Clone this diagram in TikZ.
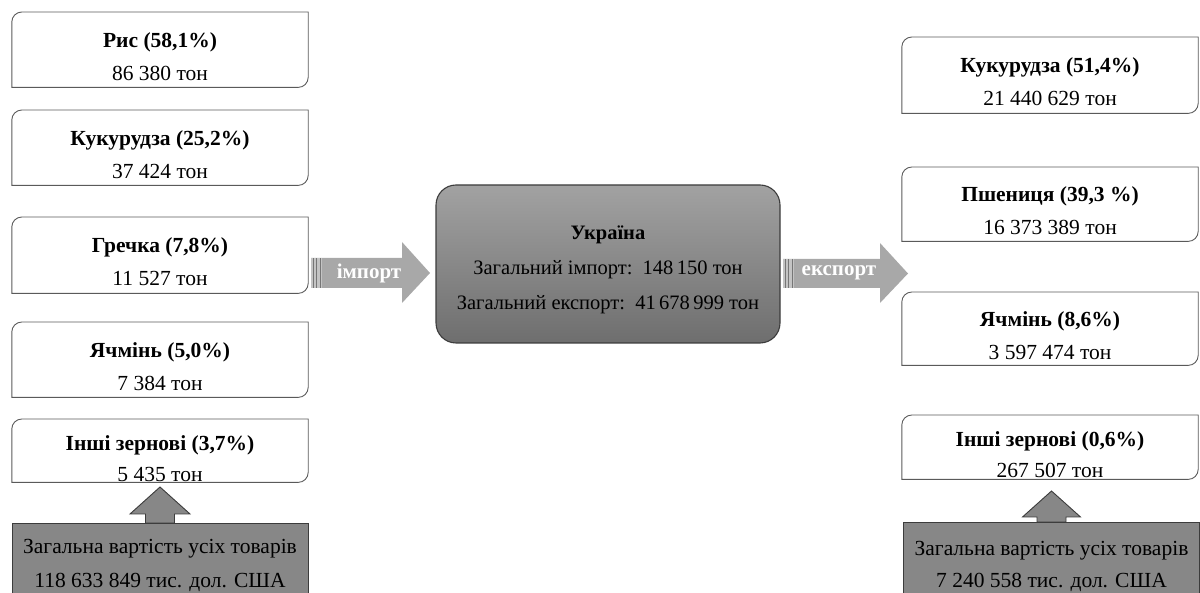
\documentclass[tikz,border=0pt]{standalone}
\usepackage{fontspec}
\setmainfont{Liberation Serif}
\usetikzlibrary{calc}
\definecolor{frameline}{HTML}{5A5A5A}
\definecolor{darkline}{HTML}{3C3C3C}
\definecolor{boxgray}{HTML}{878787}
\definecolor{arrowlight}{HTML}{A8A8A8}
\definecolor{stripe}{HTML}{C4C4C4}
\definecolor{hubtop}{HTML}{A2A2A2}
\definecolor{hubbot}{HTML}{6E6E6E}
\newcommand\drawleaf[1]{%
  \draw[leafline] (#1.south west) -- ([yshift=-10pt]#1.north west)
    arc[start angle=180,end angle=90,radius=10pt]
    -- (#1.north east) -- ([yshift=10pt]#1.south east)
    arc[start angle=0,end angle=-90,radius=10pt] -- cycle;}
\begin{document}
\begin{tikzpicture}[x=1pt,y=1pt,
  txt/.style={font=\fontsize{21.5}{25}\selectfont, inner sep=0pt, align=center, text=black},
  hubtxt/.style={font=\fontsize{20.5}{24}\selectfont, inner sep=0pt, align=center, text=black},
  leafframe/.style={rectangle, draw=none, minimum width=296pt, inner sep=0pt},
  leafline/.style={draw=frameline, line width=0.9pt},
  totbox/.style={rectangle, draw=darkline, line width=1pt, fill=boxgray, minimum width=296pt,
    inner sep=0pt, align=center, font=\fontsize{21.5}{25}\selectfont},
  hub/.style={rectangle, rounded corners=20pt, draw=darkline, line width=1.1pt,
    top color=hubtop, bottom color=hubbot, minimum width=344pt, minimum height=158pt, inner sep=0pt},
  bigarrow/.style={fill=arrowlight, draw=none},
  uparrow/.style={fill=boxgray, draw=darkline, line width=0.9pt},
  arrowtext/.style={font=\bfseries\fontsize{21}{24}\selectfont, text=white, inner sep=0pt}
]
\useasboundingbox (0,0) rectangle (1200,592);

% ---------- left column (import) ----------
\node[leafframe, minimum height=75pt, anchor=north] (L1) at (160,580) {};
\drawleaf{L1}
\node[txt] (L1t) at ($(L1.north)+(0,-44.5)$) {\textbf{Рис (58,1\%)}\\[8pt]86 380 тон};

\node[leafframe, minimum height=75pt, anchor=north] (L2) at (160,482) {};
\drawleaf{L2}
\node[txt] (L2t) at ($(L2.north)+(0,-44.5)$) {\textbf{Кукурудза (25,2\%)}\\[8pt]37 424 тон};

\node[leafframe, minimum height=76pt, anchor=north] (L3) at (160,375) {};
\drawleaf{L3}
\node[txt] (L3t) at ($(L3.north)+(0,-44.5)$) {\textbf{Гречка (7,8\%)}\\[8pt]11 527 тон};

\node[leafframe, minimum height=75pt, anchor=north] (L4) at (160,270) {};
\drawleaf{L4}
\node[txt] (L4t) at ($(L4.north)+(0,-44.5)$) {\textbf{Ячмінь (5,0\%)}\\[8pt]7 384 тон};

\node[leafframe, minimum height=63pt, anchor=north] (L5) at (160,173) {};
\drawleaf{L5}
\node[txt] (L5t) at ($(L5.north)+(0,-39.5)$) {\textbf{Інші зернові (3,7\%)}\\[6pt]5 435 тон};

\node[totbox, minimum height=84pt, anchor=north] (totL) at (160,69)
  {Загальна вартість усіх товарів\\[9pt]118 633 849 тис. дол. США};

\draw[uparrow] (totL.north) ++(-14.5,0) -- ++(0,9) -- ++(-15.5,0) -- ++(30,27)
  -- ++(30,-27) -- ++(-15.5,0) -- ++(0,-9) -- cycle;

% ---------- right column (export) ----------
\node[leafframe, minimum height=76pt, anchor=north] (R1) at (1050,555) {};
\drawleaf{R1}
\node[txt] (R1t) at ($(R1.north)+(0,-44.5)$) {\textbf{Кукурудза (51,4\%)}\\[8pt]21 440 629 тон};

\node[leafframe, minimum height=74pt, anchor=north] (R2) at (1050,425) {};
\drawleaf{R2}
\node[txt] (R2t) at ($(R2.north)+(0,-44)$) {\textbf{Пшениця (39,3 \%)}\\[8pt]16 373 389 тон};

\node[leafframe, minimum height=73pt, anchor=north] (R3) at (1050,300) {};
\drawleaf{R3}
\node[txt] (R3t) at ($(R3.north)+(0,-43.5)$) {\textbf{Ячмінь (8,6\%)}\\[8pt]3 597 474 тон};

\node[leafframe, minimum height=64pt, anchor=north] (R4) at (1050,177) {};
\drawleaf{R4}
\node[txt] (R4t) at ($(R4.north)+(0,-39.5)$) {\textbf{Інші зернові (0,6\%)}\\[6pt]267 507 тон};

\node[totbox, minimum height=88pt, anchor=north] (totR) at (1051.5,70)
  {Загальна вартість усіх товарів\\[7pt]7 240 558 тис. дол. США};

\draw[uparrow] (totR.north) ++(-14.5,0) -- ++(0,5) -- ++(-14.5,0) -- ++(29,26)
  -- ++(29,-26) -- ++(-14.5,0) -- ++(0,-5) -- cycle;

% ---------- centre ----------
\node[hub] (ua) at (608,328) {};
\node[hubtxt] (uat) at ($(ua.center)+(0,-6)$)
  {\textbf{Україна}\\[11pt]Загальний імпорт:\ \ 148\,150 тон\\[11pt]Загальний експорт:\ \ 41\,678\,999 тон};

% ---------- import arrow ----------
\fill[bigarrow] (311,334) -- (402,334) -- (402,350) -- (430,319) -- (402,289) -- (402,304) -- (311,304) -- cycle;
\fill[stripe] (311,304) rectangle (322,334);
\foreach \xx in {313,316.5,320}{\draw[arrowlight!70!black, line width=1pt] (\xx,304) -- (\xx,334);}
\node[arrowtext] (imp) at (369,319) {імпорт};

% ---------- export arrow ----------
\fill[bigarrow] (783,333) -- (880,333) -- (880,349) -- (908,318.5) -- (880,289) -- (880,304) -- (783,304) -- cycle;
\fill[stripe] (783,304) rectangle (794,333);
\foreach \xx in {785,788.5,792}{\draw[arrowlight!70!black, line width=1pt] (\xx,304) -- (\xx,333);}
\node[arrowtext] (exp) at (839,319) {експорт};

\end{tikzpicture}
\end{document}
